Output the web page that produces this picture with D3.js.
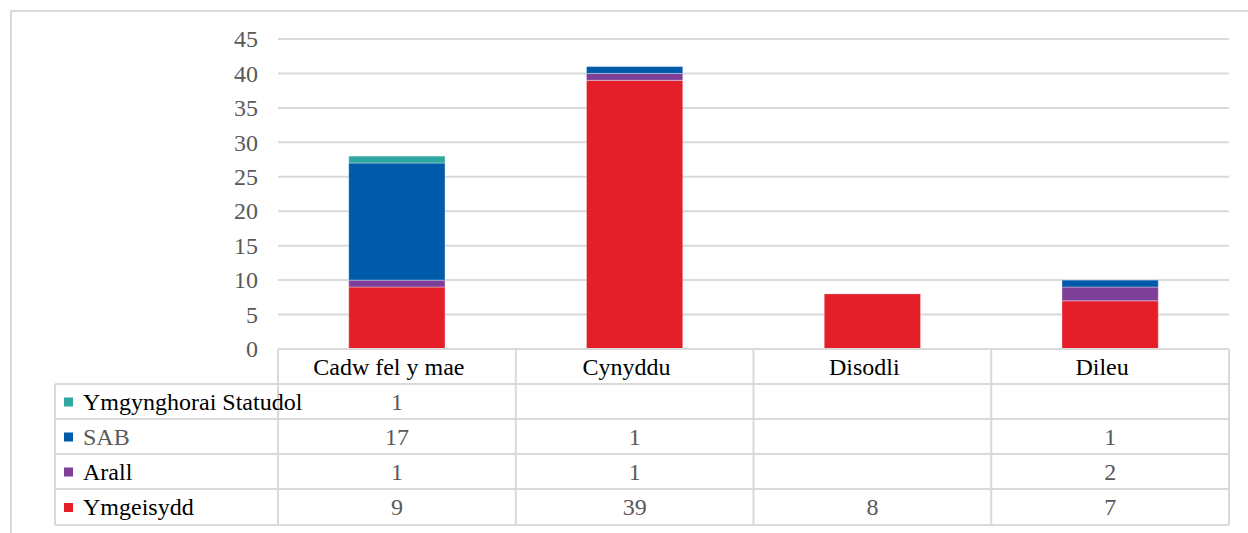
<!DOCTYPE html>
<html><head><meta charset="utf-8">
<script src="https://cdn.jsdelivr.net/npm/d3@7"></script>
<style>
html,body{margin:0;padding:0;background:#fff;}
svg{display:block;}
svg text{font-family:"Liberation Serif","Times New Roman",Times,"DejaVu Serif",serif !important;}
</style></head>
<body>
<svg id="chart" width="1248" height="533"></svg>
<script>
const categories = ["Cadw fel y mae", "Cynyddu", "Disodli", "Dileu"];
const seriesNames = ["Ymgeisydd", "Arall", "SAB", "Ymgynghorai Statudol"];
const ymgeisydd = [9, 39, 8, 7];
const arall = [1, 1, null, 2];
const sab = [17, 1, null, 1];
const ymgynghorai = [1, null, null, null];
const yTicks = [0, 5, 10, 15, 20, 25, 30, 35, 40, 45];
const colors = ["#e41f2a", "#7e3f98", "#005aaa", "#2fa6a0"];

const seriesValues = [ymgeisydd, arall, sab, ymgynghorai];
const svg = d3.select("#chart");
const FONT = '"Liberation Serif","Times New Roman",Times,"DejaVu Serif",serif';

const plotLeft = 278, plotRight = 1229, plotTop = 39, plotBottom = 349;
const x = d3.scaleBand().domain(categories).range([plotLeft, plotRight]).paddingInner(0).paddingOuter(0);
const y = d3.scaleLinear().domain([0, 45]).range([plotBottom, plotTop]);

// outer frame
svg.append("path").attr("d", "M11,533 L11,11 L1248,11").attr("fill", "none").attr("stroke", "#d9d9d9").attr("stroke-width", 2);

// gridlines
svg.append("g").selectAll("line").data(yTicks).join("line")
  .attr("x1", plotLeft).attr("x2", plotRight)
  .attr("y1", d => y(d)).attr("y2", d => y(d))
  .attr("stroke", "#d9d9d9").attr("stroke-width", 2);

// y axis labels
const yAxis = d3.axisLeft(y).tickValues(yTicks).tickSize(0).tickPadding(0);
const ya = svg.append("g").attr("transform", "translate(258,0)").call(yAxis);
ya.attr("font-family", FONT);
ya.select(".domain").remove();
ya.selectAll("text").attr("font-family", FONT).attr("font-size", 24).attr("fill", "#595959");

// stacked bars
const tableData = categories.map((c, i) => {
  const o = {cat: c};
  seriesNames.forEach((s, j) => o[s] = seriesValues[j][i] || 0);
  return o;
});
const stack = d3.stack().keys(seriesNames)(tableData);
const bw = x.bandwidth() * 0.405;
svg.append("g").selectAll("g").data(stack).join("g")
  .attr("fill", (d, i) => colors[i])
  .selectAll("rect").data(d => d.filter(p => p[1] - p[0] > 0)).join("rect")
  .attr("x", d => x(d.data.cat) + (x.bandwidth() - bw) / 2)
  .attr("width", bw)
  .attr("y", d => y(d[1]))
  .attr("height", d => y(d[0]) - y(d[1]))
  .attr("stroke", "rgba(255,255,255,0.35)").attr("stroke-width", 1);

// data table
const rowTops = [349, 384, 419, 454, 489, 525];
const tableLeft = 55;
const lineCol = "#d9d9d9";
const tg = svg.append("g").attr("font-family", FONT);
rowTops.forEach((ry, i) => {
  tg.append("line").attr("x1", i === 0 ? plotLeft : tableLeft).attr("x2", plotRight)
    .attr("y1", ry).attr("y2", ry).attr("stroke", lineCol).attr("stroke-width", 2);
});
tg.append("line").attr("x1", tableLeft).attr("x2", tableLeft).attr("y1", rowTops[1]).attr("y2", rowTops[5]).attr("stroke", lineCol).attr("stroke-width", 2);
const vx = categories.map(c => x(c)).concat([plotRight]);
vx.forEach(vv => {
  tg.append("line").attr("x1", vv).attr("x2", vv).attr("y1", rowTops[0]).attr("y2", rowTops[5]).attr("stroke", lineCol).attr("stroke-width", 2);
});
tg.selectAll("text.cat").data(categories).join("text").attr("class", "cat")
  .attr("x", d => x(d) + x.bandwidth() / 2 - 8).attr("y", 375)
  .attr("text-anchor", "middle").attr("font-size", 24).attr("fill", "#000").text(d => d);

const rowOrder = [3, 2, 1, 0];
rowOrder.forEach((si, r) => {
  const cy = (rowTops[r + 1] + rowTops[r + 2]) / 2;
  tg.append("rect").attr("x", 64).attr("y", cy - 4).attr("width", 9).attr("height", 9).attr("fill", colors[si]);
  tg.append("text").attr("x", 83).attr("y", cy + 8).attr("font-size", 24)
    .attr("fill", seriesNames[si] === "SAB" ? "#595959" : "#000").text(seriesNames[si]);
  categories.forEach((c, ci) => {
    const v = seriesValues[si][ci];
    if (v == null) return;
    tg.append("text").attr("x", x(c) + x.bandwidth() / 2).attr("y", cy + 8)
      .attr("text-anchor", "middle").attr("font-size", 24).attr("fill", "#595959").text(v);
  });
});
</script>
</body></html>
